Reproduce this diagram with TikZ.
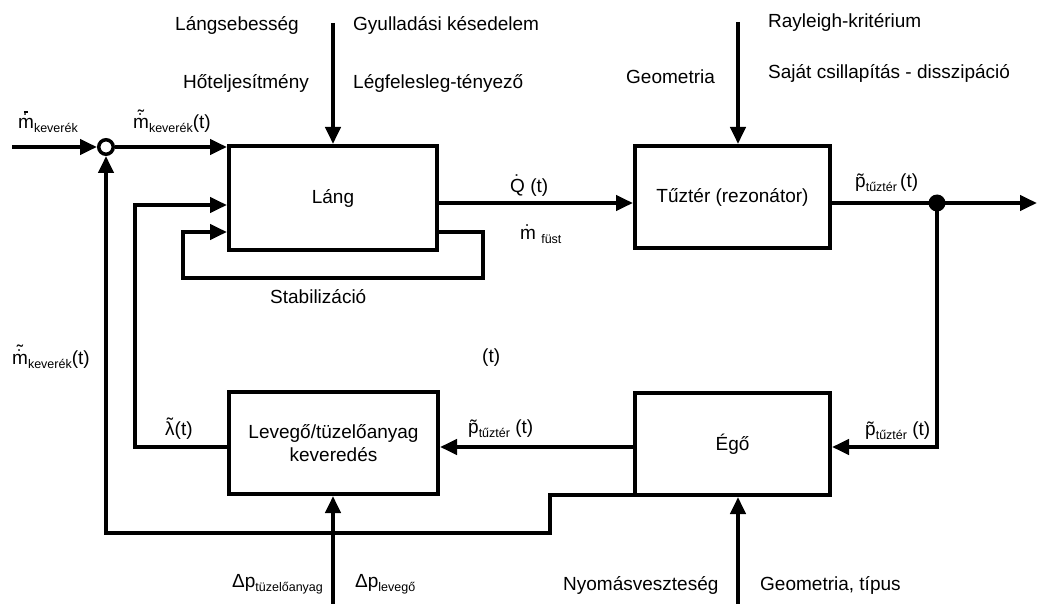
\documentclass[tikz,border=0pt]{standalone}
\usepackage{fontspec}
\setmainfont{Liberation Sans}
\usetikzlibrary{arrows.meta,calc}

\newcommand\accover[3][0pt]{\leavevmode\setbox0\hbox{#2}\rlap{\hbox to\wd0{\hss\raisebox{#1}{#3}\hss}}\box0}
\newcommand\lowsub[1]{\raisebox{-4pt}{\fontsize{12.5}{13}\selectfont #1}}
\newcommand\mdot[1][1pt]{\accover[#1]{m}{˙}}
\newcommand\mdottilde{\accover[5.5pt]{\mdot}{˜}}
\newcommand\mdotbar{\accover[16pt]{\mdot}{\rule{4.5pt}{1.5pt}}}
\newcommand\Qdot{\accover[4pt]{Q}{˙}}
\newcommand\ptil{\accover{p}{˜}}
\newcommand\ltil{\accover[4pt]{λ}{˜}}

\tikzset{
  blk/.style={draw, line width=4pt, inner sep=0pt, align=center,
    font=\fontsize{19}{23}\selectfont},
  con/.style={line width=4pt, -{Triangle[length=17pt,width=15pt]}},
  lbl/.style={font=\fontsize{19}{22}\selectfont, inner sep=0pt, anchor=base west},
}

\begin{document}
\begin{tikzpicture}[x=1pt,y=-1pt]
\useasboundingbox (0,0) rectangle (1039,604);

% blocks
\node[blk, minimum width=208pt, minimum height=104pt] (lang) at (333,198) {Láng};
\node[blk, minimum width=195pt, minimum height=102pt] (tuz) at (732.5,197) {Tűztér (rezonátor)};
\node[blk, minimum width=209pt, minimum height=102pt] (lev) at (333.5,443) {Levegő/tüzelőanyag\\keveredés};
\node[blk, minimum width=195pt, minimum height=102pt] (ego) at (732.5,444) {Égő};

% summing junction
\node[draw, circle, line width=3.5pt, fill=white, minimum size=14.5pt, inner sep=0pt] (sum) at (106,147) {};

% helper coordinates
\coordinate (in) at (12,147);
\coordinate (t1) at (333,23);
\coordinate (t2) at (738,22);
\coordinate (b1) at (333,604);
\coordinate (b2) at (738,604);
\coordinate (qy) at (0,203);
\coordinate (out) at (1037,203);
\coordinate (fb) at (0,447);
\coordinate (lx) at (135,447);
\coordinate (ly) at (135,205);
\coordinate (s1) at (483,232);
\coordinate (s2) at (483,278);
\coordinate (s3) at (183,278);
\coordinate (s4) at (183,232);
\coordinate (f1) at (550,495);
\coordinate (f2) at (550,533);
\coordinate (f3) at (106,533);

% connectors
\draw[con] (in) -- (sum.west);
\draw[con] (sum.east) -- (sum.east -| lang.west);
\draw[con] (t1) -- (lang.north);
\draw[con] (t2) -- (t2 |- tuz.north);
\draw[con] (b1) -- (b1 |- lev.south);
\draw[con] (b2) -- (b2 |- ego.south);
\draw[con] (lang.east |- qy) -- (tuz.west |- qy);
\draw[con] (tuz.east |- qy) -- (out);
\node[circle, fill, minimum size=17pt, inner sep=0pt] (dot) at (937,203) {};
\draw[con] (dot.center) |- (ego.east |- fb);
\draw[con] (ego.west |- fb) -- (lev.east |- fb);
\draw[con] (lev.west |- fb) -- (lx) -- (ly) -- (lang.west |- ly);
\draw[con] (lang.east |- s1) -- (s1) -- (s2) -- (s3) -- (s4) -- (lang.west |- s4);
\draw[con] ([shift={(2pt,2pt)}]ego.south west) -- (f1) -- (f2) -- (f3) -- (sum.south);

% labels
\node[lbl] (l1) at (175,31) {Lángsebesség};
\node[lbl] (l2) at (183,89) {Hőteljesítmény};
\node[lbl] (l3) at (353,31) {Gyulladási késedelem};
\node[lbl] (l4) at (353,89) {Légfelesleg-tényező};
\node[lbl] (l5) at (626,84) {Geometria};
\node[lbl] (l6) at (768,28) {Rayleigh-kritérium};
\node[lbl] (l7) at (768,79) {Saját csillapítás - disszipáció};
\node[lbl] (l8) at (18,129) {\mdotbar\lowsub{keverék}};
\node[lbl] (l9) at (133,129) {\mdottilde\lowsub{keverék}(t)};
\node[lbl] (l10) at (510,193) {\Qdot\ (t)};
\node[lbl] (l11) at (520,240) {\mdot\ \lowsub{füst}};
\node[lbl] (l12) at (855,188) {\ptil\lowsub{tűztér}\,(t)};
\node[lbl] (l13) at (270,303) {Stabilizáció};
\node[lbl] (l14) at (482,362) {(t)};
\node[lbl] (l15) at (12,364) {\mdottilde\lowsub{keverék}(t)};
\node[lbl] (l16) at (165,435) {\ltil(t)};
\node[lbl] (l17) at (468,433) {\ptil\lowsub{tűztér} (t)};
\node[lbl] (l18) at (865,435) {\ptil\lowsub{tűztér} (t)};
\node[lbl] (l19) at (232,587) {Δp\lowsub{tüzelőanyag}};
\node[lbl] (l20) at (355,587) {Δp\lowsub{levegő}};
\node[lbl] (l21) at (563,590) {Nyomásveszteség};
\node[lbl] (l22) at (760,590) {Geometria, típus};
\end{tikzpicture}
\end{document}
